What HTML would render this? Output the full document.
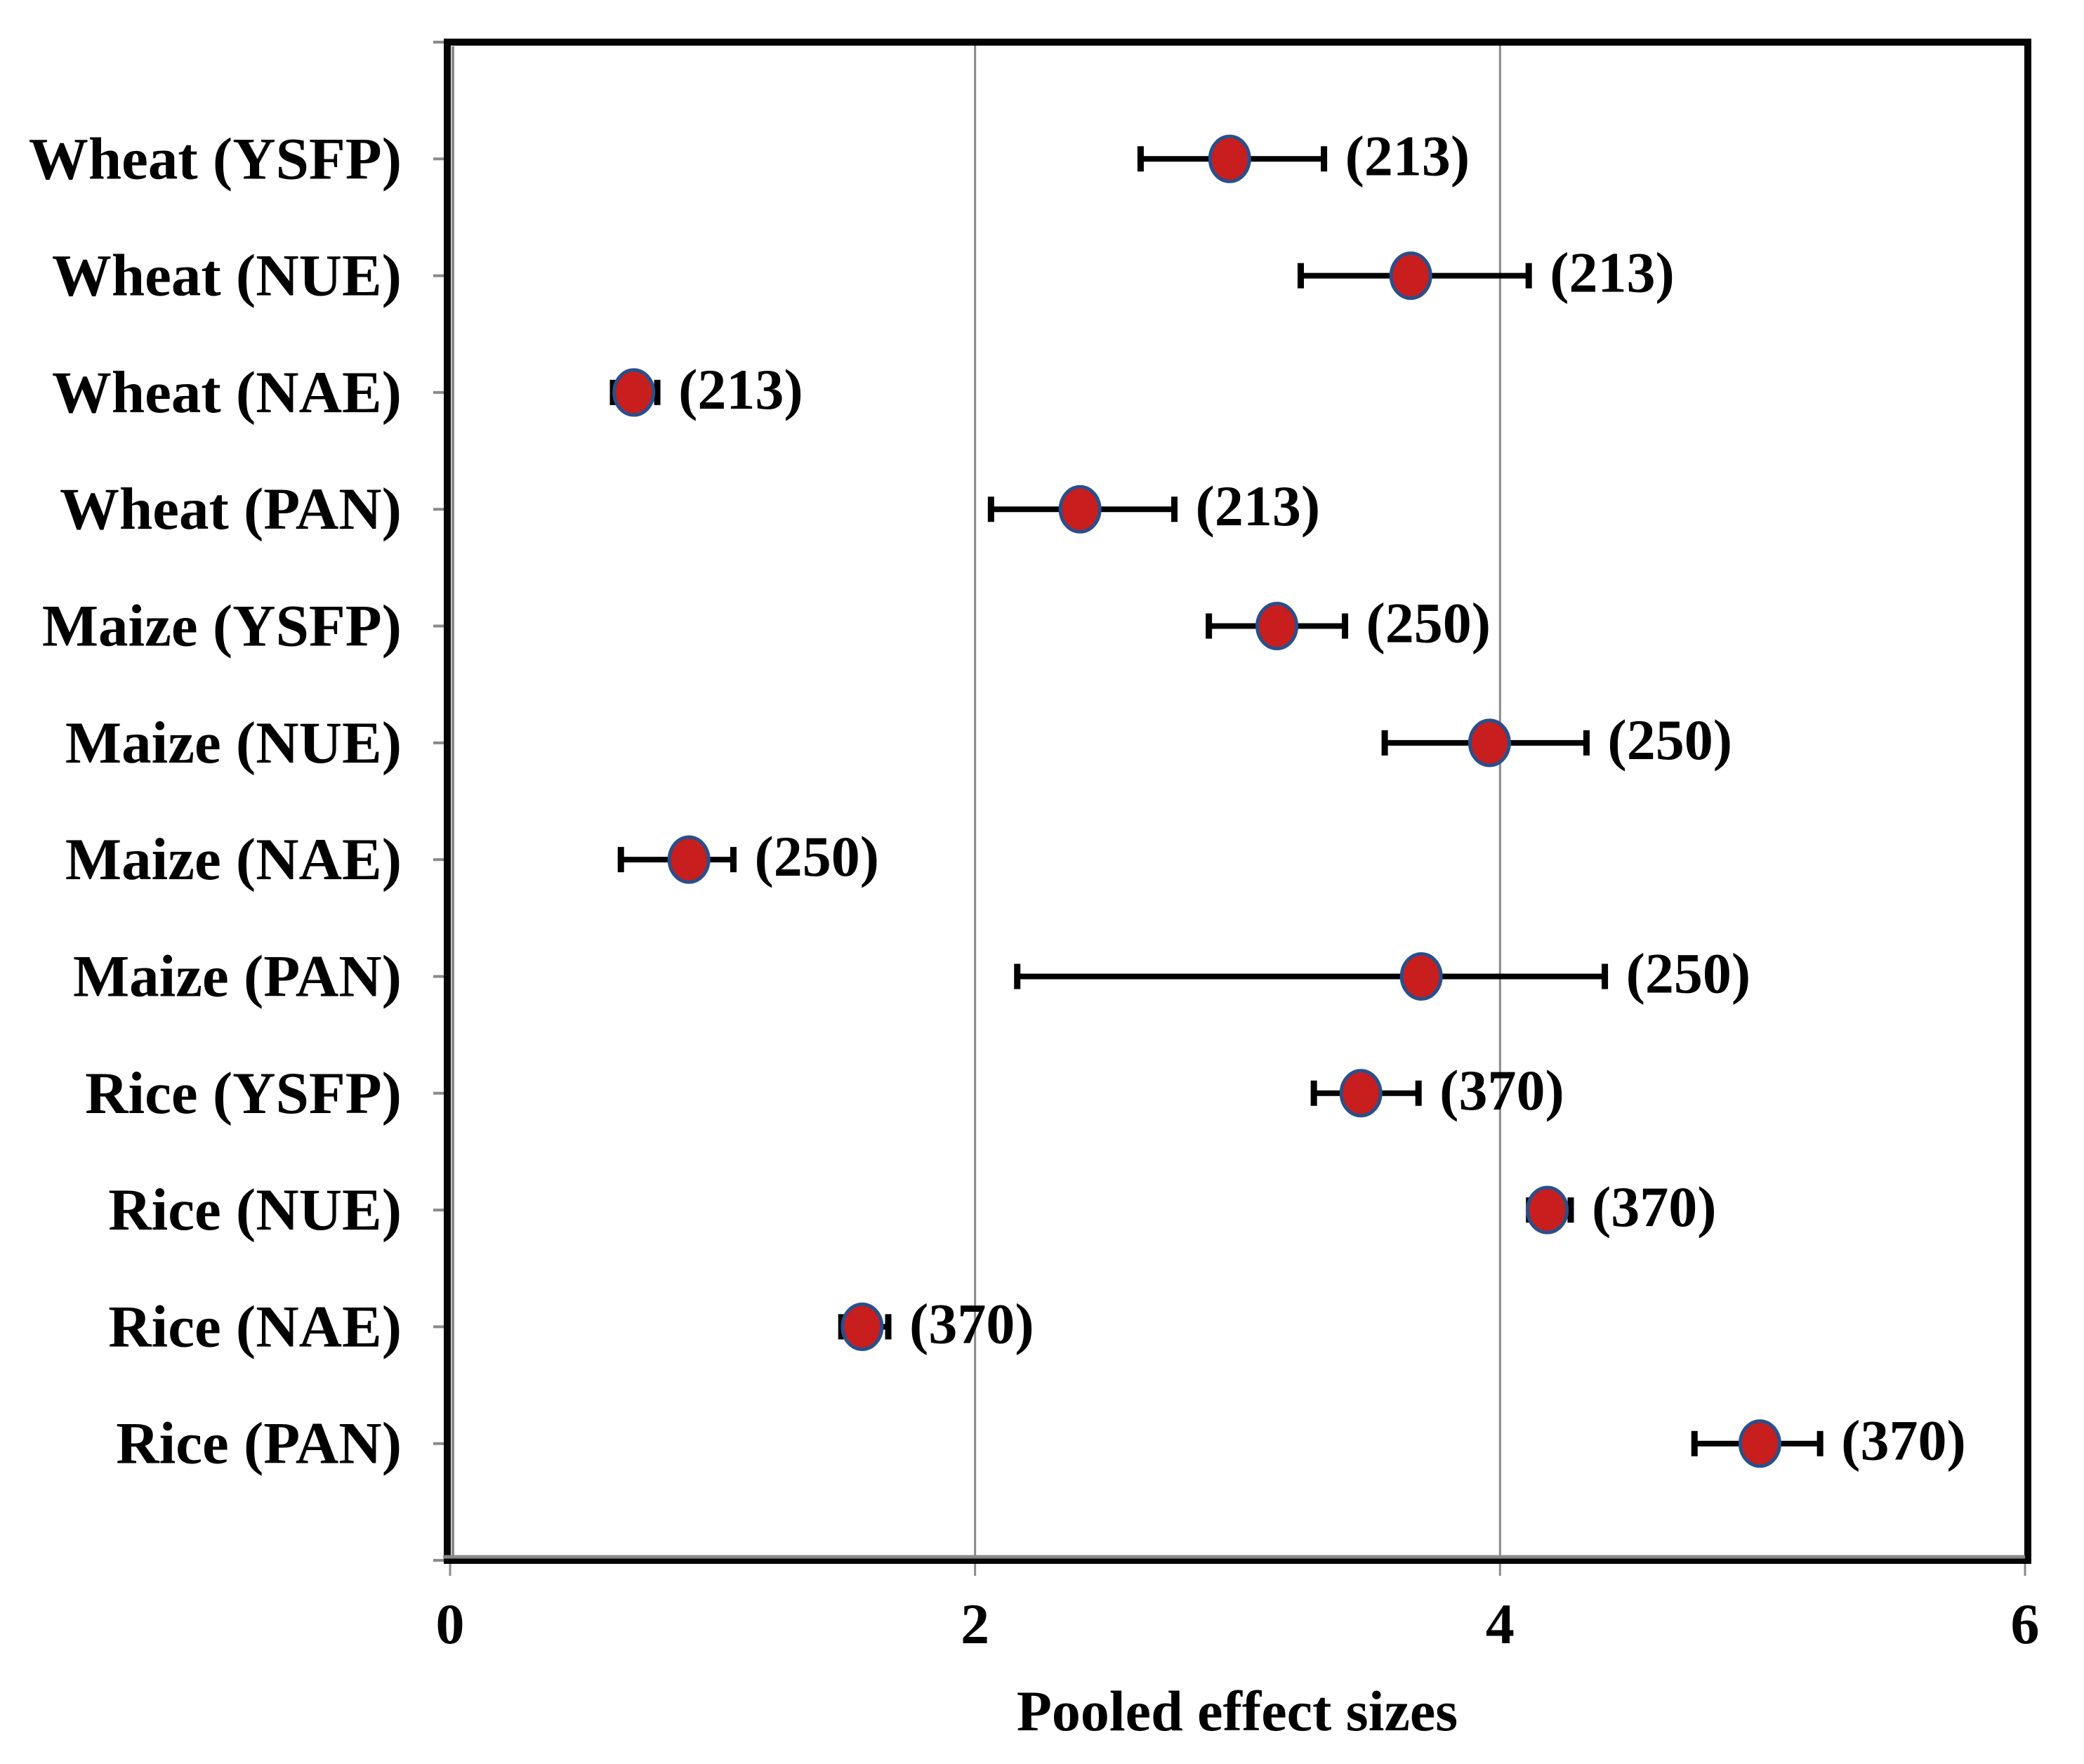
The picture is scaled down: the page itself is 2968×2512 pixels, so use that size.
<!DOCTYPE html>
<html><head><meta charset="utf-8"><style>
html,body{margin:0;padding:0;background:#fff;}
svg{display:block;}
text{font-family:"Liberation Serif",serif;font-weight:bold;fill:#000;}
</style></head><body>
<svg id="chart" width="2968" height="2512" viewBox="0 0 2968 2512" xmlns="http://www.w3.org/2000/svg">
<rect x="0" y="0" width="2968" height="2512" fill="#fff"/>
<g id="grid"></g>
<g id="axes"></g>
<g id="marks"></g>
<text x="1762" y="2464" font-size="82" text-anchor="middle">Pooled effect sizes</text>
</svg>
<script>
const categories = ["Wheat (YSFP)","Wheat (NUE)","Wheat (NAE)","Wheat (PAN)","Maize (YSFP)","Maize (NUE)","Maize (NAE)","Maize (PAN)","Rice (YSFP)","Rice (NUE)","Rice (NAE)","Rice (PAN)"];
const effects = [2.97,3.66,0.70,2.40,3.15,3.96,0.91,3.70,3.47,4.18,1.57,4.99];
const lowerCI = [2.62,3.23,0.61,2.05,2.88,3.55,0.64,2.15,3.28,4.10,1.48,4.73];
const upperCI = [3.34,4.12,0.80,2.77,3.42,4.34,1.09,4.41,3.70,4.28,1.68,5.23];
const sampleLabels = ["(213)","(213)","(213)","(213)","(250)","(250)","(250)","(250)","(370)","(370)","(370)","(370)"];
const xTicks = [0,2,4,6];

const NS="http://www.w3.org/2000/svg";
const X0=641, X1=2884, XMIN=0, XMAX=6, YT=60, YB=2222;
const nSlots = categories.length + 1;
function xs(v){return X0+(v-XMIN)/(XMAX-XMIN)*(X1-X0);}
function ys(i){return YT+(i+1)*(YB-YT)/nSlots;}
function mk(tag,attrs,parent){const e=document.createElementNS(NS,tag);for(const k in attrs)e.setAttribute(k,attrs[k]);parent.appendChild(e);return e;}
const grid=document.getElementById('grid'), axes=document.getElementById('axes'), marks=document.getElementById('marks');

xTicks.forEach(t=>{
  const x=xs(t);
  if(t!==XMIN && t!==XMAX){
    const g=mk('line',{x1:x,y1:YT,x2:x,y2:YB,stroke:'#8a8a8a','stroke-width':3},grid);
    
    
  }
  const tk=mk('line',{x1:x,y1:YB,x2:x,y2:YB+22,stroke:'#8a8a8a','stroke-width':3},axes);
  
  
  const tl=mk('text',{x:x,y:2340,'font-size':82,'text-anchor':'middle'},axes);
  tl.textContent=t;
  
  
});
for(let k=0;k<=nSlots;k++){
  const y=YT+k*(YB-YT)/nSlots;
  const t=mk('line',{x1:X0-24,y1:y,x2:X0,y2:y,stroke:'#8a8a8a','stroke-width':4},axes);
  
  
}
const fr=mk('rect',{x:X0-4,y:YT,width:X1-X0+8,height:YB-YT,fill:'none',stroke:'#050505','stroke-width':10},axes);


const la=mk('line',{x1:X0+4,y1:YT+6,x2:X0+4,y2:YB-4,stroke:'#8a8a8a','stroke-width':4},axes);


const ba=mk('line',{x1:X0-10,y1:YB-5,x2:X1,y2:YB-5,stroke:'#8a8a8a','stroke-width':5},axes);



categories.forEach((c,i)=>{
  const y=ys(i);
  const lab=mk('text',{x:572,y:y+28,'font-size':85,'text-anchor':'end'},axes);
  lab.textContent=c;
  
  
  const lo=xs(lowerCI[i]), hi=xs(upperCI[i]), cx=xs(effects[i]);
  const g=mk('g',{},marks);
  
  
  mk('line',{x1:lo,y1:y,x2:hi,y2:y,stroke:'#000','stroke-width':8},g);
  mk('line',{x1:lo+4,y1:y-18,x2:lo+4,y2:y+18,stroke:'#000','stroke-width':9},g);
  mk('line',{x1:hi-4,y1:y-18,x2:hi-4,y2:y+18,stroke:'#000','stroke-width':9},g);
  const p=mk('ellipse',{cx:cx,cy:y,rx:28,ry:32,fill:'#c81e1e',stroke:'#2a4f8a','stroke-width':5},marks);
  
  
  const n=mk('text',{x:hi+26,y:y+23,'font-size':82},marks);
  n.textContent=sampleLabels[i];
  
  
});
</script>
</body></html>
